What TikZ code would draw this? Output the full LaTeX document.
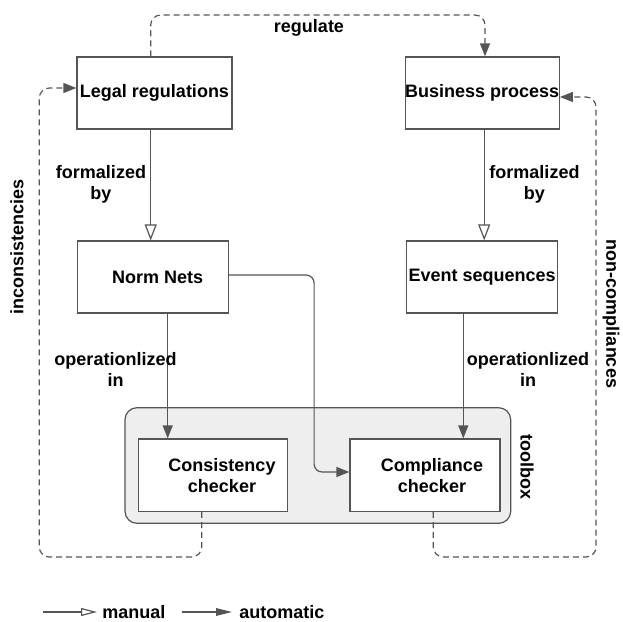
\documentclass[tikz,border=0pt]{standalone}
\usepackage{fontspec}
\setmainfont{Liberation Sans}
\usetikzlibrary{arrows.meta}
\definecolor{lc}{HTML}{555555}
\definecolor{tbfill}{HTML}{EEEEEE}
\begin{document}
\begin{tikzpicture}[x=0.5pt,y=-0.5pt,
  font=\fontsize{9}{10.5}\selectfont\bfseries,
  box/.style={draw=lc,line width=0.6pt,fill=white,inner sep=0pt,align=center},
  lbl/.style={align=center,inner sep=0pt},
  manual/.style={draw=lc,line width=0.6pt,-{Triangle[open,length=8pt,width=6pt,fill=white]}},
  autoarr/.style={draw=lc,line width=0.6pt,-{Triangle[length=6.5pt,width=5pt]}},
  legmanual/.style={draw=lc,line width=0.6pt,-{Triangle[open,length=8pt,width=4pt,fill=white]}},
  legauto/.style={draw=lc,line width=0.6pt,-{Triangle[length=8pt,width=3.8pt]}},
  dashedarr/.style={autoarr,dash pattern=on 3pt off 2pt,rounded corners=5pt}]
\useasboundingbox (0,0) rectangle (623,622);
% toolbox
\node (tb) [draw=lc,line width=0.6pt,fill=tbfill,rounded corners=6pt,minimum width=192.85pt,minimum height=57.8pt] at (317.85,465.5) {};
\node (tblabel) [lbl,rotate=-90] at (527,467) {toolbox};
% boxes
\node (legal) [box,minimum width=77.5pt,minimum height=36pt] at (154.5,93) {Legal regulations};
\node (biz) [box,minimum width=75.5pt,minimum height=36pt] at (482.2,93) {Business process};
\node (norm) [box,minimum width=75.5pt,minimum height=36pt,label={[lbl,xshift=2.5pt]center:Norm Nets}] at (152.7,277) {};
\node (event) [box,minimum width=75.5pt,minimum height=36pt] at (482.2,277) {Event sequences};
\node (cons) [box,minimum width=74.7pt,minimum height=36.3pt,label={[lbl,xshift=4.5pt]center:Consistency\\checker}] at (213,475.3) {};
\node (comp) [box,minimum width=75pt,minimum height=36.3pt,label={[lbl,xshift=3.5pt]center:Compliance\\checker}] at (425,475.3) {};
% formalized
\draw[manual] ([xshift=-1.9pt]legal.south) -- ([xshift=-1.9pt]legal.south |- norm.north);
\draw[manual] ([xshift=1pt]biz.south) -- ([xshift=1pt]biz.south |- event.north);
\node (f1) [lbl] at (101,184.5) {formalized\\by};
\node (f2) [lbl] at (534.5,184.5) {formalized\\by};
% operationalized
\draw[autoarr] ([xshift=7.5pt]norm.south) -- ([xshift=7.5pt]norm.south |- cons.north);
\draw[autoarr] ([xshift=-9.45pt]event.south) -- ([xshift=-9.45pt]event.south |- comp.north);
\node (o1) [lbl] at (115.5,369) {operationlized\\in};
\node (o2) [lbl] at (528,369) {operationlized\\in};
% norm nets to compliance
\draw[autoarr,rounded corners=4pt] ([yshift=1pt]norm.east) -- ++(85.3,0) |- ([yshift=1.65pt]comp.west);
% regulate
\coordinate (r1) at (150.7,15);
\coordinate (r2) at (485,15);
\draw[dashedarr] (legal.north -| r1) -- (r1) -- (r2) -- (r2 |- biz.north);
\node (reg) [lbl] at (309,28) {regulate};
% inconsistencies
\coordinate (i1) at (201.7,557);
\coordinate (i2) at (39.3,557);
\coordinate (i3) at (39.3,88);
\draw[dashedarr] (cons.south -| i1) -- (i1) -- (i2) -- (i3) -- (legal.west |- i3);
\node (inc) [lbl,rotate=90] at (17,247) {inconsistencies};
% non-compliances
\coordinate (n1) at (433.3,557);
\coordinate (n2) at (596,557);
\coordinate (n3) at (596,97);
\draw[dashedarr] (comp.south -| n1) -- (n1) -- (n2) -- (n3) -- (biz.east |- n3);
\node (ncl) [lbl,rotate=-90] at (611,314) {non-compliances};
% legend
\coordinate (m1) at (43,612);
\coordinate (m2) at (97,612);
\draw[legmanual] (m1) -- (m2);
\node (mtext) [lbl,anchor=west] at (102,612) {manual};
\coordinate (a1) at (181.7,612);
\coordinate (a2) at (232,612);
\draw[legauto] (a1) -- (a2);
\node (atext) [lbl,anchor=west] at (239,612) {automatic};
\end{tikzpicture}
\end{document}
